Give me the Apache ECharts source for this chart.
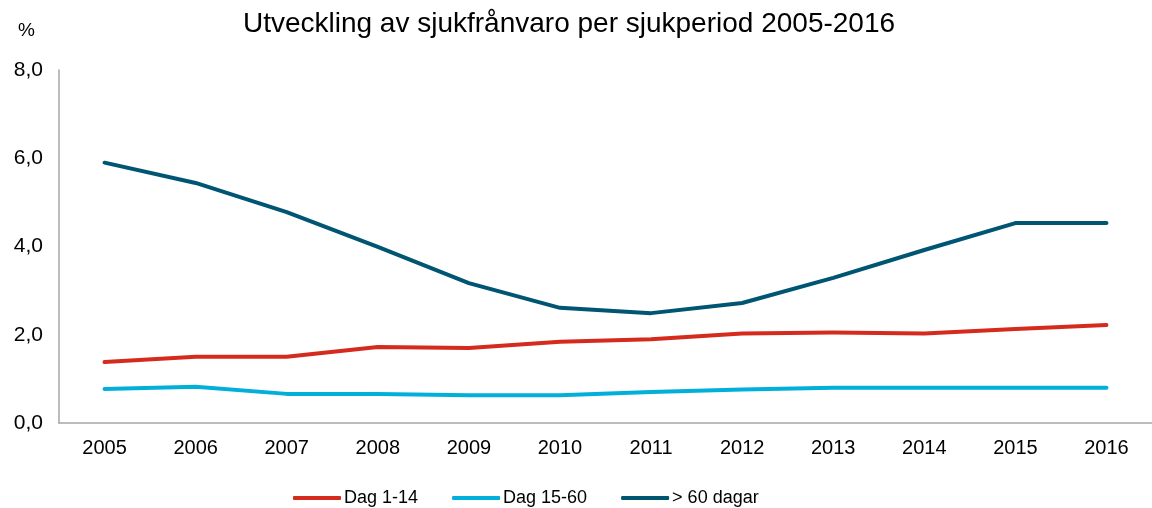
<!DOCTYPE html>
<html>
<head>
<meta charset="utf-8">
<script src="https://cdn.jsdelivr.net/npm/echarts@6/dist/echarts.min.js"></script>
<style>
  html, body { margin: 0; padding: 0; background: #fff; }
  #chart { width: 1152px; height: 508px; }
</style>
</head>
<body>
<div id="chart"></div>
<script>
"use strict";

var years = ['2005', '2006', '2007', '2008', '2009', '2010', '2011', '2012', '2013', '2014', '2015', '2016'];
var dag1_14 = [1.38, 1.5, 1.5, 1.72, 1.7, 1.84, 1.9, 2.03, 2.05, 2.03, 2.13, 2.22];
var dag15_60 = [0.77, 0.82, 0.66, 0.66, 0.63, 0.63, 0.7, 0.76, 0.8, 0.8, 0.8, 0.8];
var over60 = [5.9, 5.44, 4.78, 3.99, 3.17, 2.61, 2.49, 2.72, 3.29, 3.92, 4.53, 4.53];

var font = 'Liberation Sans, Arial, sans-serif';
var chart = echarts.init(document.getElementById('chart'));

function makeSeries(name, data, color) {
    return {
        name: name,
        type: 'line',
        data: data,
        symbol: 'none',
        lineStyle: { color: color, width: 4, cap: 'round', join: 'round' },
        itemStyle: { color: color }
    };
}

var options = {
    animation: false,
    title: {
        text: 'Utveckling av sjukfrånvaro per sjukperiod 2005-2016',
        left: 564,
        top: 5,
        textAlign: 'center',
        textStyle: { fontFamily: font, fontSize: 28, fontWeight: 'normal', color: '#000' }
    },
    grid: {
        left: 59,
        top: 70,
        width: 1096,
        height: 353
    },
    legend: {
        top: 484,
        left: 288,
        icon: 'roundRect',
        itemWidth: 48,
        itemHeight: 4,
        itemGap: 34,
        textStyle: { fontFamily: font, fontSize: 18, color: '#000', padding: [0, 0, 0, -2] },
        data: ['Dag 1-14', 'Dag 15-60', '> 60 dagar']
    },
    xAxis: {
        type: 'category',
        data: years,
        boundaryGap: true,
        axisLine: { lineStyle: { color: '#A6A6A6', width: 1.5 } },
        axisTick: { show: false },
        axisLabel: { fontFamily: font, fontSize: 20, color: '#000', margin: 15 }
    },
    yAxis: {
        type: 'value',
        min: 0,
        max: 8,
        interval: 2,
        name: '%',
        nameLocation: 'end',
        nameGap: 30,
        nameTextStyle: { fontFamily: font, fontSize: 19, color: '#000', align: 'right', padding: [0, 24, 0, 0] },
        axisLine: { show: true, lineStyle: { color: '#A6A6A6', width: 1.5 } },
        axisTick: { show: false },
        splitLine: { show: false },
        axisLabel: {
            fontFamily: font, fontSize: 21, color: '#000', margin: 16,
            formatter: function (v) { return v.toFixed(1).replace('.', ','); }
        }
    },
    series: [
        makeSeries('Dag 1-14', dag1_14, '#D52B1E'),
        makeSeries('Dag 15-60', dag15_60, '#00B0DA'),
        makeSeries('> 60 dagar', over60, '#005573')
    ]
};

chart.setOption(options);
</script>
</body>
</html>
